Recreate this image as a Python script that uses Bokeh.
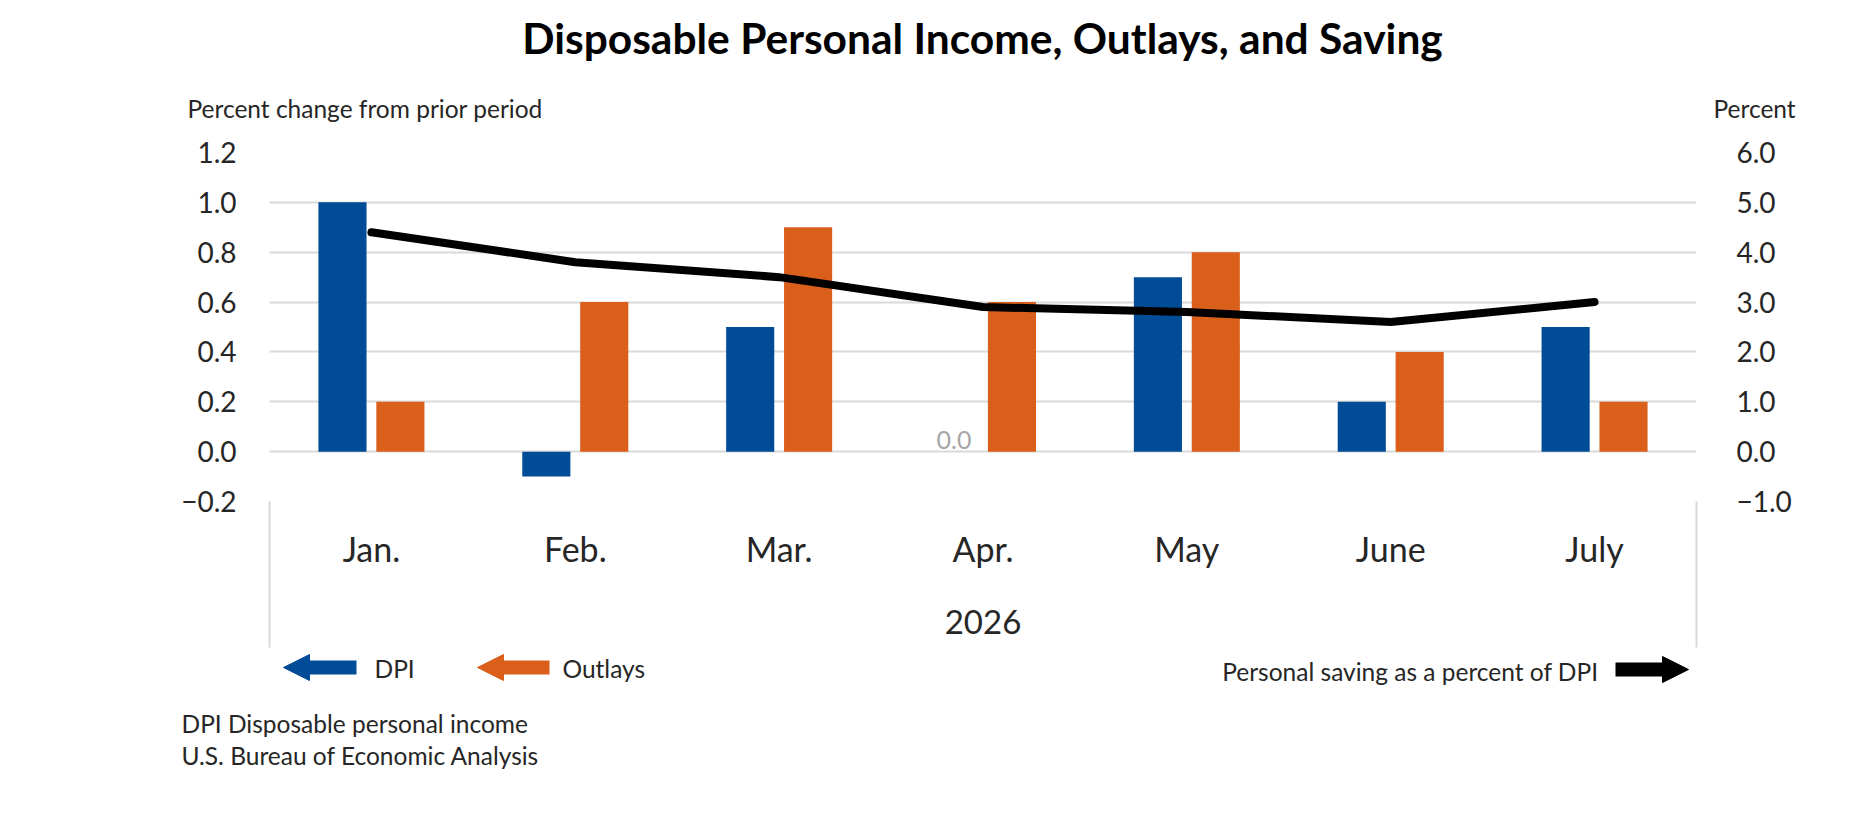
from bokeh.plotting import figure
from bokeh.layouts import column
from bokeh.models import (Range1d, LinearAxis, FixedTicker, CustomJSTickFormatter,
                          Label, Arrow, NormalHead, ColumnDataSource)
from bokeh.transform import dodge
from bokeh.core.properties import value
from bokeh.embed import file_html
from bokeh.resources import INLINE

# ---------------- data ----------------
months = ["Jan.", "Feb.", "Mar.", "Apr.", "May", "June", "July"]
year_label = "2026"
dpi = [1.0, -0.1, 0.5, 0.0, 0.7, 0.2, 0.5]
outlays = [0.2, 0.6, 0.9, 0.6, 0.8, 0.4, 0.2]
saving_rate = [4.4, 3.8, 3.5, 2.9, 2.8, 2.6, 3.0]
left_ticks = [-0.2, 0.0, 0.2, 0.4, 0.6, 0.8, 1.0, 1.2]
right_ticks = [-1.0, 0.0, 1.0, 2.0, 3.0, 4.0, 5.0, 6.0]

title_text = "Disposable Personal Income, Outlays, and Saving"
left_header = "Percent change from prior period"
right_header = "Percent"
legend_dpi = "DPI"
legend_outlays = "Outlays"
legend_saving = "Personal saving as a percent of DPI"
footnotes = ["DPI Disposable personal income", "U.S. Bureau of Economic Analysis"]

# ---------------- style ----------------
FONT = "Lato"
BLUE = "#004C97"
ORANGE = "#D95F1B"
GRID = "#D9D9D9"
TEXT = "#262626"
W = 1860
TOP_H = 132          # title + headers strip
MAIN_H = 518         # chart with axes
BOT_H = 158          # legend + notes strip
SMALL = "24.5px"


def strip(h, y0):
    f = figure(width=W, height=h, output_backend="svg", toolbar_location=None,
               x_range=Range1d(0, W), y_range=Range1d(y0 + h, y0),
               x_axis_location=None, y_axis_location=None,
               min_border=0, outline_line_color=None)
    f.grid.visible = False
    f.background_fill_color = "white"
    f.border_fill_color = "white"
    return f


def lab(f, text, x, y, size=SMALL, align="left", color=TEXT, style="normal"):
    f.add_layout(Label(x=x, y=y, text=text, text_font=FONT, text_font_size=size,
                       text_color=color, text_align=align, text_baseline="middle",
                       text_font_style=style))


# ---------------- top strip: title and axis headers ----------------
top = strip(TOP_H, 0)
lab(top, title_text, 982, 37, size="42.5px", align="center", color="#000000", style="bold")
lab(top, left_header, 187, 108)
lab(top, right_header, 1713, 108)

# ---------------- main chart ----------------
centers = [i + 0.5 for i in range(len(months))]
src = ColumnDataSource(dict(x=centers, month=months, dpi=dpi, outlays=outlays, sav=saving_rate))
zero_src = ColumnDataSource(dict(
    x=[centers[i] for i, v in enumerate(dpi) if v == 0],
    y=[v for v in dpi if v == 0],
    t=["%.1f" % v for v in dpi if v == 0]))

p = figure(width=W, height=MAIN_H, output_backend="svg", toolbar_location=None,
           x_range=Range1d(0, len(months)), y_range=Range1d(left_ticks[0], left_ticks[-1]),
           min_border_left=269, min_border_right=164, min_border_top=20, min_border_bottom=149)
p.extra_y_ranges = {"sav": Range1d(right_ticks[0], right_ticks[-1])}
p.outline_line_color = None
p.background_fill_color = "white"
p.border_fill_color = "white"

p.xgrid.visible = False
p.ygrid.ticker = FixedTicker(ticks=left_ticks)
p.ygrid.grid_line_color = GRID
p.ygrid.grid_line_width = 2

fmt_js = "return (tick < -1e-9 ? '\u2212' : '') + Math.abs(tick).toFixed(1);"

ya = p.yaxis[0]
ya.ticker = FixedTicker(ticks=left_ticks)
ya.formatter = CustomJSTickFormatter(code=fmt_js)
ya.axis_line_color = None
ya.major_tick_line_color = None
ya.minor_tick_line_color = None
ya.major_tick_out = 0
ya.major_tick_in = 0
ya.major_label_standoff = 33
ya.major_label_text_font = FONT
ya.major_label_text_font_size = "28px"
ya.major_label_text_color = TEXT

ra = LinearAxis(y_range_name="sav", ticker=FixedTicker(ticks=right_ticks),
                formatter=CustomJSTickFormatter(code=fmt_js))
ra.axis_line_color = None
ra.major_tick_line_color = None
ra.minor_tick_line_color = None
ra.major_tick_out = 0
ra.major_tick_in = 0
ra.major_label_standoff = 40
ra.major_label_text_align = "right"
ra.major_label_text_font = FONT
ra.major_label_text_font_size = "28px"
ra.major_label_text_color = TEXT
p.add_layout(ra, "right")

xa = p.xaxis[0]
xa.ticker = FixedTicker(ticks=centers, minor_ticks=[0, len(months)])
xa.formatter = CustomJSTickFormatter(args=dict(months=months),
                                     code="return months[Math.floor(tick)];")
xa.axis_line_color = None
xa.major_tick_line_color = None
xa.major_tick_out = 0
xa.major_tick_in = 0
xa.minor_tick_in = 0
xa.minor_tick_out = 146
xa.minor_tick_line_color = GRID
xa.minor_tick_line_width = 2
xa.major_label_standoff = -120
xa.major_label_text_font = FONT
xa.major_label_text_font_size = "34px"
xa.major_label_text_color = TEXT
xa.axis_label = year_label
xa.axis_label_standoff = 38
xa.axis_label_text_font = FONT
xa.axis_label_text_font_size = "33px"
xa.axis_label_text_font_style = "normal"
xa.axis_label_text_color = TEXT

p.vbar(x=dodge("x", -0.142), top="dpi", bottom=0, width=0.236, source=src,
       fill_color=BLUE, line_color=None)
p.vbar(x=dodge("x", 0.142), top="outlays", bottom=0, width=0.236, source=src,
       fill_color=ORANGE, line_color=None)
p.text(x=dodge("x", -0.142), y="y", text="t", source=zero_src, text_align="center",
       text_baseline="bottom", y_offset=-3, text_font=value(FONT), text_font_size="25px",
       text_color="#A6A6A6")

p.line(x="x", y="sav", source=src, y_range_name="sav", line_width=8, line_color="black",
       line_join="round", line_cap="round")

# ---------------- bottom strip: legend and notes ----------------
Y0 = TOP_H + MAIN_H
bot = strip(BOT_H, Y0)


def arrow(f, x0, x1, y, color):
    f.add_layout(Arrow(x_start=x0, y_start=y, x_end=x1, y_end=y,
                       line_color=color, line_width=14,
                       end=NormalHead(size=26, fill_color=color, line_color=color, line_width=1)))


arrow(bot, 356, 283, 667, BLUE)
lab(bot, legend_dpi, 374, 668)
arrow(bot, 549, 477, 667, ORANGE)
lab(bot, legend_outlays, 562, 668)
lab(bot, legend_saving, 1598, 671, align="right")
arrow(bot, 1615, 1688, 669, "black")
lab(bot, footnotes[0], 181, 723)
lab(bot, footnotes[1], 181, 755)

# strips wrapped in their own columns so their frames are not aligned to the chart's
layout = column(column(top), p, column(bot), spacing=0)
open("out.html", "w").write(file_html(layout, INLINE))
